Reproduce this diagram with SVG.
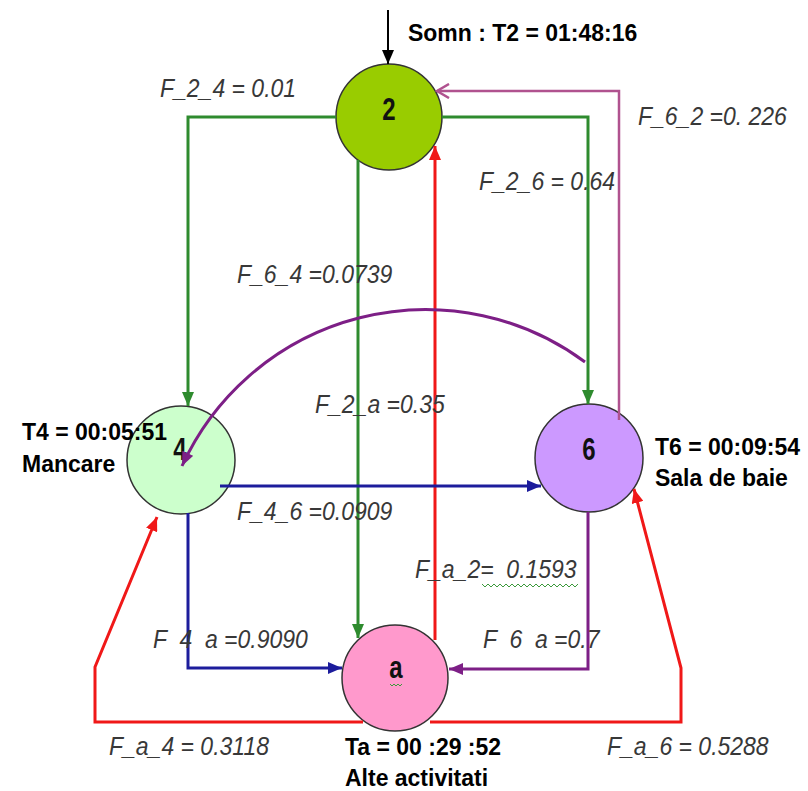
<svg xmlns="http://www.w3.org/2000/svg" width="808" height="791" viewBox="0 0 808 791">
<defs>
<style>
.lbl{font-family:"Liberation Sans",Arial,sans-serif;font-style:italic;font-size:23px;fill:#383838;white-space:pre}
.bold{font-family:"Liberation Sans",Arial,sans-serif;font-weight:bold;font-size:23px;fill:#000;white-space:pre}
.num{font-family:"Liberation Sans",Arial,sans-serif;font-weight:bold;font-size:24px;fill:#111;text-anchor:middle}
.node{stroke:#333;stroke-width:1.5}
.c{fill:none;stroke-width:3;stroke-linejoin:miter}
.g{stroke:#2e8b2e}
.r{stroke:#f01818}
.b{stroke:#1c1c9c}
.p{stroke:#7d1f86}
.k{stroke:#000;stroke-width:2}
.pk{stroke:#b0528f;stroke-width:2.5}
.sq{fill:none;stroke:#3c9a3c;stroke-width:1}
</style>
<marker id="ag" viewBox="0 0 14 12" refX="14" refY="6" markerWidth="14" markerHeight="12" markerUnits="userSpaceOnUse" orient="auto"><path d="M0,0 L14,6 L0,12 z" fill="#2e8b2e"/></marker>
<marker id="ar" viewBox="0 0 14 12" refX="14" refY="6" markerWidth="14" markerHeight="12" markerUnits="userSpaceOnUse" orient="auto"><path d="M0,0 L14,6 L0,12 z" fill="#f01818"/></marker>
<marker id="ab" viewBox="0 0 14 12" refX="14" refY="6" markerWidth="14" markerHeight="12" markerUnits="userSpaceOnUse" orient="auto"><path d="M0,0 L14,6 L0,12 z" fill="#1c1c9c"/></marker>
<marker id="ap" viewBox="0 0 14 12" refX="14" refY="6" markerWidth="14" markerHeight="12" markerUnits="userSpaceOnUse" orient="auto"><path d="M0,0 L14,6 L0,12 z" fill="#7d1f86"/></marker>
<marker id="ak" viewBox="0 0 14 12" refX="14" refY="6" markerWidth="14" markerHeight="12" markerUnits="userSpaceOnUse" orient="auto"><path d="M0,0 L14,6 L0,12 z" fill="#000"/></marker>
<marker id="apk" viewBox="0 0 16 16" refX="14" refY="8" markerWidth="16" markerHeight="16" markerUnits="userSpaceOnUse" orient="auto"><path d="M2,1 L14,8 L2,15" fill="none" stroke="#b0528f" stroke-width="2.5"/></marker>
</defs>
<rect width="808" height="791" fill="#fff"/>

<g id="node-2">
<circle class="node" cx="389" cy="117" r="53" fill="#99cc00"/>
<text class="num" transform="translate(389,120) scale(1,1.3)">2</text>
<text class="bold" transform="translate(408,41) scale(1,1.08)">Somn : T2 = 01:48:16</text>
</g>
<g id="node-4">
<circle class="node" cx="181" cy="460" r="54" fill="#ccffcc"/>
<text class="num" transform="translate(180,460) scale(1,1.3)">4</text>
<text class="bold" transform="translate(22,440) scale(1,1.08)">T4 = 00:05:51</text>
<text class="bold" transform="translate(22,472) scale(1,1.08)">Mancare</text>
</g>
<g id="node-6">
<circle class="node" cx="589" cy="458" r="54" fill="#cc99ff"/>
<text class="num" transform="translate(589,460) scale(1,1.3)">6</text>
<text class="bold" transform="translate(655,455) scale(1,1.08)">T6 = 00:09:54</text>
<text class="bold" transform="translate(655,486) scale(1,1.08)">Sala de baie</text>
</g>
<g id="node-a">
<circle class="node" cx="395" cy="678" r="53" fill="#ff99cc"/>
<text class="num" transform="translate(396,678) scale(1,1.3)">a</text>
<path class="sq" d="M390,684 l2,2 l2,-2 l2,2 l2,-2 l2,2 l2,-2"/>
<text class="bold" transform="translate(345,755) scale(1,1.08)">Ta = 00 :29 :52</text>
<text class="bold" transform="translate(345,786) scale(1,1.08)">Alte activitati</text>
</g>

<g id="connectors">
<path class="c k" d="M388,10 L388,64" marker-end="url(#ak)"/>
<path class="c g" d="M336,117 L188,117 L188,406" marker-end="url(#ag)"/>
<path class="c g" d="M442,117 L588,117 L588,404" marker-end="url(#ag)"/>
<path class="c g" d="M358,160 L358,638" marker-end="url(#ag)"/>
<path class="c pk" d="M619,420 L619,91 L437,91" marker-end="url(#apk)"/>
<path class="c r" d="M435,640 L435,146" marker-end="url(#ar)"/>
<path class="c b" d="M220,486 L541,486" marker-end="url(#ab)"/>
<path class="c b" d="M188,513 L188,668 L342,668" marker-end="url(#ab)"/>
<path class="c p" d="M588,512 L588,669 L449,669" marker-end="url(#ap)"/>
<path class="c r" d="M363,722 L95,722 L95,667 L157,517" marker-end="url(#ar)"/>
<path class="c r" d="M430,722 L681,722 L681,668 L634,489" marker-end="url(#ar)"/>
<path class="c p" d="M585,362 A268,268 0 0 0 182,466" marker-end="url(#ap)"/>

<text class="lbl" transform="translate(160,97) scale(1,1.15)">F_2_4 = 0.01</text>
<text class="lbl" transform="translate(638,125) scale(1,1.15)">F_6_2 =0. 226</text>
<text class="lbl" transform="translate(479,190) scale(1,1.15)">F_2_6 = 0.64</text>
<text class="lbl" transform="translate(237,283) scale(1,1.15)">F_6_4 =0.0739</text>
<text class="lbl" transform="translate(315,413) scale(1,1.15)">F_2_a =0.35</text>
<text class="lbl" transform="translate(237,520) scale(1,1.15)">F_4_6 =0.0909</text>
<text class="lbl" transform="translate(415,578) scale(1,1.15)">F_a_2=  0.1593</text>
<path class="sq" d="M482,584 l3,3 l3,-3 l3,3 l3,-3 l3,3 l3,-3 l3,3 l3,-3 l3,3 l3,-3 l3,3 l3,-3 l3,3 l3,-3 l3,3 l3,-3 l3,3 l3,-3 l3,3 l3,-3 l3,3 l3,-3 l3,3 l3,-3 l3,3 l3,-3 l3,3 l3,-3 l3,3 l3,-3 l3,3 l3,-3"/>
<text class="lbl" transform="translate(483,648) scale(1,1.15)">F  6  a =0.7</text>
<text class="lbl" transform="translate(153,648) scale(1,1.15)">F  4  a =0.9090</text>
<text class="lbl" transform="translate(109,755) scale(1,1.15)">F_a_4 = 0.3118</text>
<text class="lbl" transform="translate(607,755) scale(1,1.15)">F_a_6 = 0.5288</text>
</g>
</svg>
